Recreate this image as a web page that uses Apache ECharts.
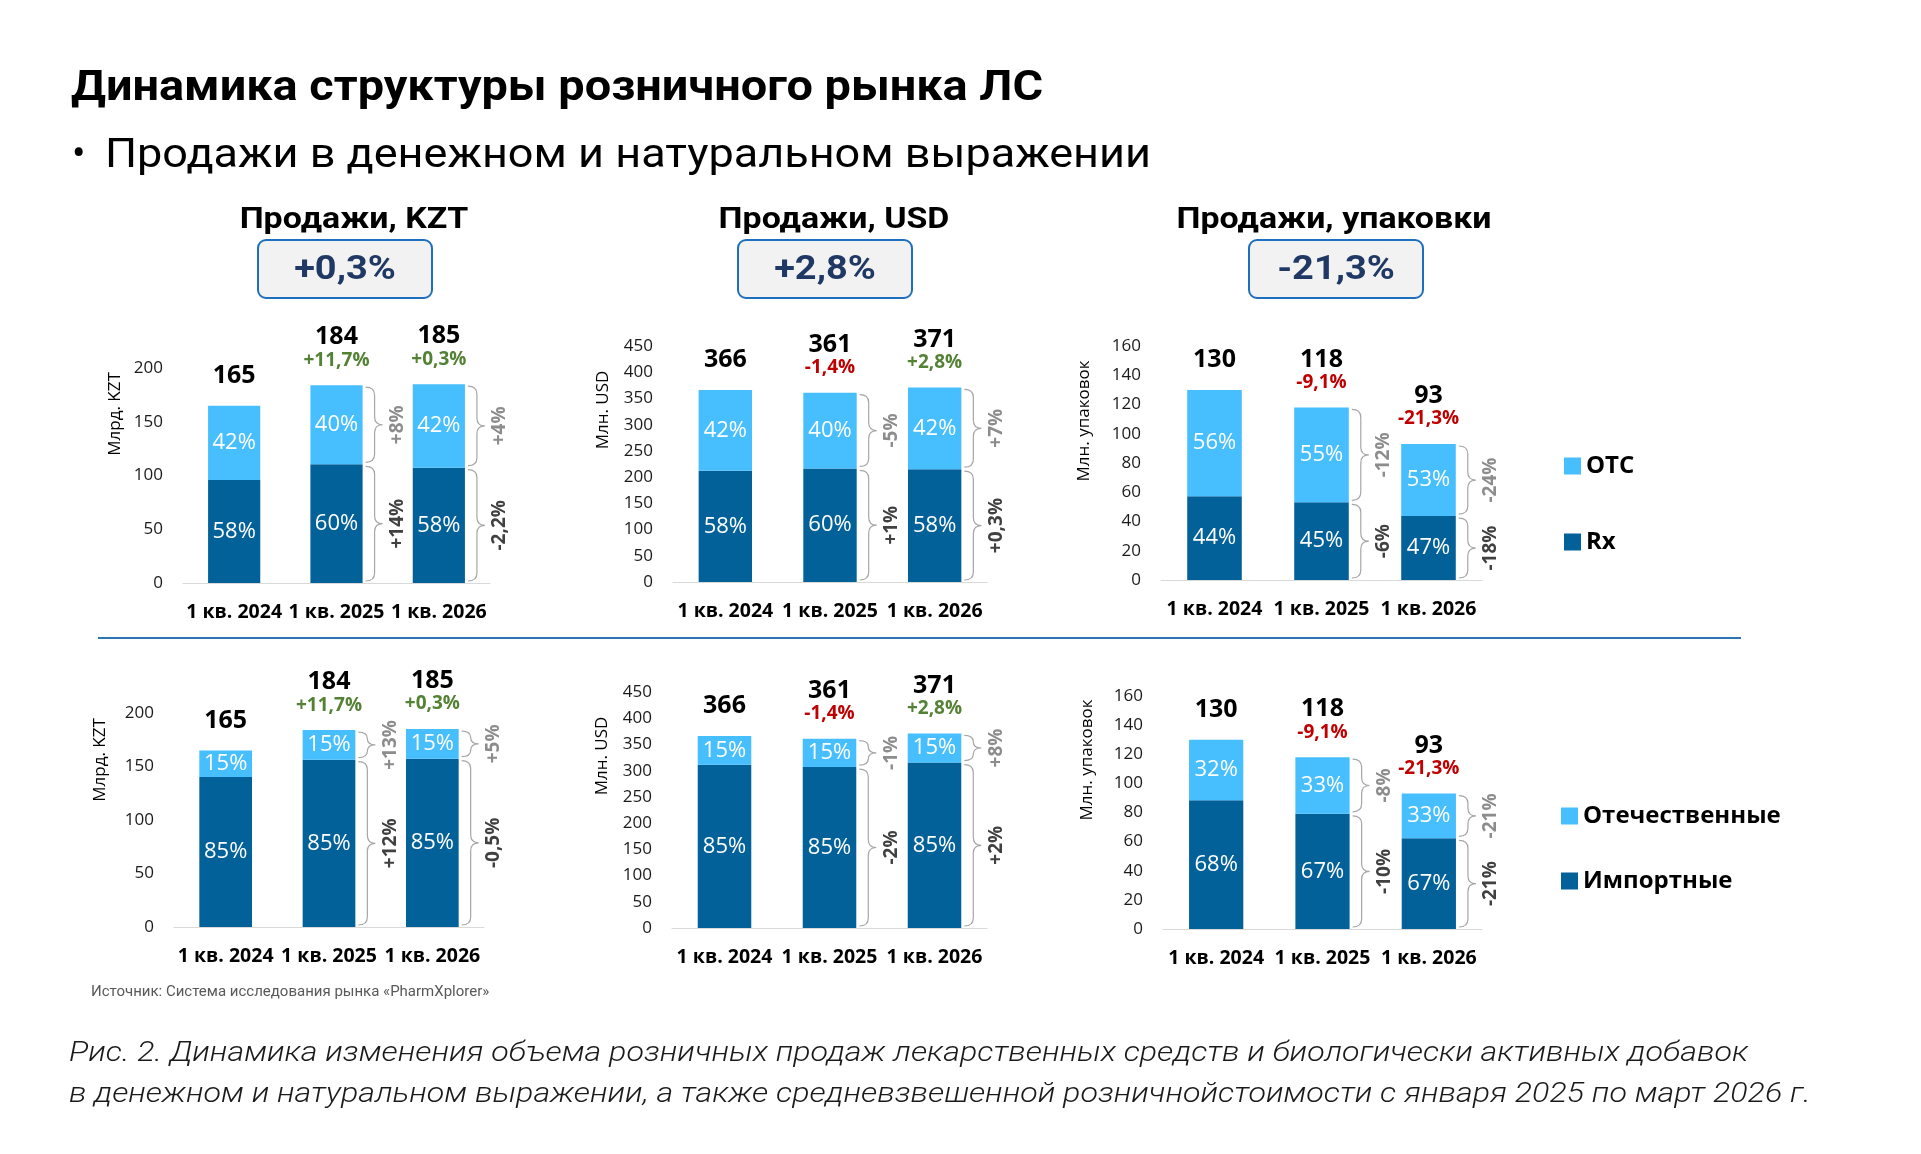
<!DOCTYPE html>
<html>
<head>
<meta charset="utf-8">
<script src="https://cdn.jsdelivr.net/npm/echarts@6/dist/echarts.min.js"></script>
<style>
html,body{margin:0;padding:0;background:#fff;}
#main{width:1921px;height:1154px;}
</style>
</head>
<body>
<div id="main"></div>
<script>
// ---------- DATA ----------
const categories = ['1 кв. 2024', '1 кв. 2025', '1 кв. 2026'];

// Top row: Rx / OTC
const kztTotal = [165, 184, 185];
const kztGrowth = ['', '+11,7%', '+0,3%'];
const kztRx = [95.7, 110.4, 107.3];
const kztOtc = [69.3, 73.6, 77.7];
const kztRxShare = ['58%', '60%', '58%'];
const kztOtcShare = ['42%', '40%', '42%'];
const kztRxChange = ['', '+14%', '-2,2%'];
const kztOtcChange = ['', '+8%', '+4%'];

const usdTotal = [366, 361, 371];
const usdGrowth = ['', '-1,4%', '+2,8%'];
const usdRx = [212.3, 216.6, 215.2];
const usdOtc = [153.7, 144.4, 155.8];
const usdRxShare = ['58%', '60%', '58%'];
const usdOtcShare = ['42%', '40%', '42%'];
const usdRxChange = ['', '+1%', '+0,3%'];
const usdOtcChange = ['', '-5%', '+7%'];

const packTotal = [130, 118, 93];
const packGrowth = ['', '-9,1%', '-21,3%'];
const packRx = [57.2, 53.1, 43.7];
const packOtc = [72.8, 64.9, 49.3];
const packRxShare = ['44%', '45%', '47%'];
const packOtcShare = ['56%', '55%', '53%'];
const packRxChange = ['', '-6%', '-18%'];
const packOtcChange = ['', '-12%', '-24%'];

// Bottom row: imported / domestic
const kztImp = [140.3, 156.4, 157.3];
const kztDom = [24.7, 27.6, 27.7];
const kztImpShare = ['85%', '85%', '85%'];
const kztDomShare = ['15%', '15%', '15%'];
const kztImpChange = ['', '+12%', '-0,5%'];
const kztDomChange = ['', '+13%', '+5%'];

const usdImp = [311.1, 306.9, 315.4];
const usdDom = [54.9, 54.1, 55.6];
const usdImpShare = ['85%', '85%', '85%'];
const usdDomShare = ['15%', '15%', '15%'];
const usdImpChange = ['', '-2%', '+2%'];
const usdDomChange = ['', '-1%', '+8%'];

const packImp = [88.4, 79.1, 62.3];
const packDom = [41.6, 38.9, 30.7];
const packImpShare = ['68%', '67%', '67%'];
const packDomShare = ['32%', '33%', '33%'];
const packImpChange = ['', '-10%', '-21%'];
const packDomChange = ['', '-8%', '-21%'];

const headlines = ['+0,3%', '+2,8%', '-21,3%'];
const sectionTitles = ['Продажи, KZT', 'Продажи, USD', 'Продажи, упаковки'];
const axisNames = ['Млрд. KZT', 'Млн. USD', 'Млн. упаковок'];
const legendTop = ['OTC', 'Rx'];
const legendBottom = ['Отечественные', 'Импортные'];

// ---------- STYLE ----------
const DARK = '#03619A';
const LIGHT = '#47BFFE';
const GREEN = '#548235';
const RED = '#C00000';
const FONT = '"Open Sans", sans-serif';
const HFONT = 'Roboto, sans-serif';

const grids = [
  {left: 183, top: 368, width: 307, height: 215},
  {left: 673, top: 346, width: 314, height: 236},
  {left: 1161, top: 346, width: 321, height: 234},
  {left: 174, top: 713, width: 310, height: 214},
  {left: 672, top: 692, width: 315, height: 236},
  {left: 1163, top: 696, width: 319, height: 233}
];
const yScales = [
  {max: 200, interval: 50}, {max: 450, interval: 50}, {max: 160, interval: 20},
  {max: 200, interval: 50}, {max: 450, interval: 50}, {max: 160, interval: 20}
];

const panels = [
  {names: legendTop, low: kztRx, high: kztOtc, lowShare: kztRxShare, highShare: kztOtcShare, total: kztTotal, growth: kztGrowth, lowChg: kztRxChange, highChg: kztOtcChange},
  {names: legendTop, low: usdRx, high: usdOtc, lowShare: usdRxShare, highShare: usdOtcShare, total: usdTotal, growth: usdGrowth, lowChg: usdRxChange, highChg: usdOtcChange},
  {names: legendTop, low: packRx, high: packOtc, lowShare: packRxShare, highShare: packOtcShare, total: packTotal, growth: packGrowth, lowChg: packRxChange, highChg: packOtcChange},
  {names: legendBottom, low: kztImp, high: kztDom, lowShare: kztImpShare, highShare: kztDomShare, total: kztTotal, growth: kztGrowth, lowChg: kztImpChange, highChg: kztDomChange},
  {names: legendBottom, low: usdImp, high: usdDom, lowShare: usdImpShare, highShare: usdDomShare, total: usdTotal, growth: usdGrowth, lowChg: usdImpChange, highChg: usdDomChange},
  {names: legendBottom, low: packImp, high: packDom, lowShare: packImpShare, highShare: packDomShare, total: packTotal, growth: packGrowth, lowChg: packImpChange, highChg: packDomChange}
];

const BAR_RATIO = 0.51;

function txt(text, x, y, font, fill, align, valign, rotation, scaleX) {
  return {
    type: 'text', x: x, y: y, rotation: rotation || 0, scaleX: scaleX || 1,
    style: {text: text, font: font, fill: fill,
      align: align || 'center', verticalAlign: valign || 'middle',
      textAlign: align || 'center', textVerticalAlign: valign || 'middle'}
  };
}

const xAxes = [], yAxes = [], series = [];
panels.forEach(function (p, g) {
  xAxes.push({
    type: 'category', gridIndex: g, data: categories,
    axisLine: {lineStyle: {color: '#D9D9D9', width: 1}},
    axisTick: {show: false},
    axisLabel: {interval: 0, hideOverlap: false, color: '#000', fontFamily: FONT, fontWeight: 'bold', fontSize: 19.5, margin: 19}
  });
  yAxes.push({
    type: 'value', gridIndex: g, min: 0, max: yScales[g].max, interval: yScales[g].interval,
    axisLine: {show: false}, axisTick: {show: false}, splitLine: {show: false},
    axisLabel: {color: '#1a1a1a', fontFamily: FONT, fontSize: 17, margin: 20}
  });
  const stackId = 'st' + g;
  series.push({
    type: 'bar', name: p.names[1], xAxisIndex: g, yAxisIndex: g, stack: stackId,
    data: p.low, barWidth: (BAR_RATIO * 100) + '%', itemStyle: {color: DARK},
    label: {show: true, position: 'inside', color: '#fff', fontFamily: FONT, fontSize: 22,
      formatter: function (prm) { return p.lowShare[prm.dataIndex]; }}
  });
  series.push({
    type: 'bar', name: p.names[0], xAxisIndex: g, yAxisIndex: g, stack: stackId,
    data: p.high, barWidth: (BAR_RATIO * 100) + '%', itemStyle: {color: LIGHT},
    label: {show: true, position: 'inside', color: '#fff', fontFamily: FONT, fontSize: 22,
      formatter: function (prm) { return p.highShare[prm.dataIndex]; }}
  });
  // totals + growth labels
  series.push({
    type: 'custom', xAxisIndex: g, yAxisIndex: g, silent: true, z: 5,
    data: p.total.map(function (v, i) { return [i, v]; }),
    renderItem: function (params, api) {
      const i = params.dataIndex;
      const pt = api.coord([api.value(0), api.value(1)]);
      const gr = p.growth[i];
      const children = [];
      if (gr) {
        children.push(txt(String(p.total[i]), pt[0], pt[1] - 48, 'bold 25px ' + FONT, '#000'));
        children.push(txt(gr, pt[0], pt[1] - 25, 'bold 19px ' + FONT, gr.charAt(0) === '-' ? RED : GREEN));
      } else {
        children.push(txt(String(p.total[i]), pt[0], pt[1] - 30, 'bold 25px ' + FONT, '#000'));
      }
      return {type: 'group', children: children};
    }
  });
  // braces with change labels
  const braceData = [], braceLabels = [];
  for (let i = 1; i < categories.length; i++) {
    braceData.push([i, 0, p.low[i]]); braceLabels.push({t: p.lowChg[i], c: '#404040'});
    braceData.push([i, p.low[i], p.low[i] + p.high[i]]); braceLabels.push({t: p.highChg[i], c: '#8C8C8C'});
  }
  series.push({
    type: 'custom', xAxisIndex: g, yAxisIndex: g, silent: true, z: 5,
    data: braceData,
    renderItem: function (params, api) {
      const lab = braceLabels[params.dataIndex];
      const c = api.value(0);
      const top = api.coord([c, api.value(2)]);
      const bot = api.coord([c, api.value(1)]);
      const band = api.size([1, 0])[0];
      const x0 = top[0] + band * BAR_RATIO / 2 + 3;
      const y0 = top[1] + 2, y1 = bot[1] - 2;
      const w = 9, t = 8;
      const r = Math.min(8, (y1 - y0) / 4);
      const ym = (y0 + y1) / 2;
      const d = 'M' + x0 + ' ' + y0 +
        ' Q' + (x0 + w) + ' ' + y0 + ' ' + (x0 + w) + ' ' + (y0 + r) +
        ' L' + (x0 + w) + ' ' + (ym - r) +
        ' Q' + (x0 + w) + ' ' + ym + ' ' + (x0 + w + t) + ' ' + ym +
        ' Q' + (x0 + w) + ' ' + ym + ' ' + (x0 + w) + ' ' + (ym + r) +
        ' L' + (x0 + w) + ' ' + (y1 - r) +
        ' Q' + (x0 + w) + ' ' + y1 + ' ' + x0 + ' ' + y1;
      return {
        type: 'group', children: [
          {type: 'path', shape: {pathData: d}, style: {stroke: '#A6A6A6', lineWidth: 1.2, fill: null}},
          txt(lab.t, x0 + 32, ym, 'bold 19px ' + FONT, lab.c, 'center', 'middle', Math.PI / 2)
        ]
      };
    }
  });
});

// ---------- GRAPHIC (titles, boxes, captions) ----------
const graphic = [];
graphic.push(txt('Динамика структуры розничного рынка ЛС', 71, 89, 'bold 43px ' + HFONT, '#000', 'left', 'middle', 0, 1.09));
graphic.push(txt('•', 72, 157, '40px ' + HFONT, '#000', 'left'));
graphic.push(txt('Продажи в денежном и натуральном выражении', 105, 157, '40px ' + HFONT, '#000', 'left', 'middle', 0, 1.125));

const titleX = [354, 834, 1334];
const boxX = [258, 738, 1249];
sectionTitles.forEach(function (s, k) {
  graphic.push(txt(s, titleX[k], 220, 'bold 30px ' + HFONT, '#000', 'center', 'middle', 0, 1.13));
  graphic.push({type: 'rect', shape: {x: boxX[k], y: 240, width: 174, height: 58, r: 8},
    style: {fill: '#F2F2F2', stroke: '#1F6FBF', lineWidth: 2}});
  graphic.push(txt(headlines[k], boxX[k] + 87, 271, 'bold 33px ' + HFONT, '#1F3864', 'center', 'middle', 0, 1.15));
});

// axis names
const axisNamePos = [[115, 414], [603, 410], [1084, 421], [100, 760], [602, 756], [1087, 760]];
axisNamePos.forEach(function (pos, k) {
  graphic.push(txt(axisNames[k % 3], pos[0], pos[1], '17px ' + FONT, '#000', 'center', 'middle', Math.PI / 2));
});

graphic.push({type: 'line', shape: {x1: 98, y1: 638, x2: 1741, y2: 638}, style: {stroke: '#2E75B6', lineWidth: 2}});
graphic.push(txt('Источник: Система исследования рынка «PharmXplorer»', 91, 992, '15px ' + HFONT, '#595959', 'left'));
graphic.push(txt('Рис. 2. Динамика изменения объема розничных продаж лекарственных средств и биологически активных добавок', 69, 1054, 'italic 300 28px ' + HFONT, '#1a1a1a', 'left', 'middle', 0, 1.15));
graphic.push(txt('в денежном и натуральном выражении, а также средневзвешенной розничнойстоимости с января 2025 по март 2026 г.', 69, 1095, 'italic 300 28px ' + HFONT, '#1a1a1a', 'left', 'middle', 0, 1.15));

const chart = echarts.init(document.getElementById('main'));
chart.setOption({
  animation: false,
  backgroundColor: '#fff',
  grid: grids,
  xAxis: xAxes,
  yAxis: yAxes,
  legend: [
    {data: legendTop, orient: 'vertical', left: 1559, top: 449, itemWidth: 17, itemHeight: 17, itemGap: 52,
      icon: 'rect', selectedMode: false, textStyle: {fontFamily: FONT, fontWeight: 'bold', fontSize: 24, color: '#000'}},
    {data: legendBottom, orient: 'vertical', left: 1556, top: 799, itemWidth: 17, itemHeight: 17, itemGap: 41,
      icon: 'rect', selectedMode: false, textStyle: {fontFamily: FONT, fontWeight: 'bold', fontSize: 24, color: '#000'}}
  ],
  series: series,
  graphic: graphic
});
</script>
</body>
</html>
